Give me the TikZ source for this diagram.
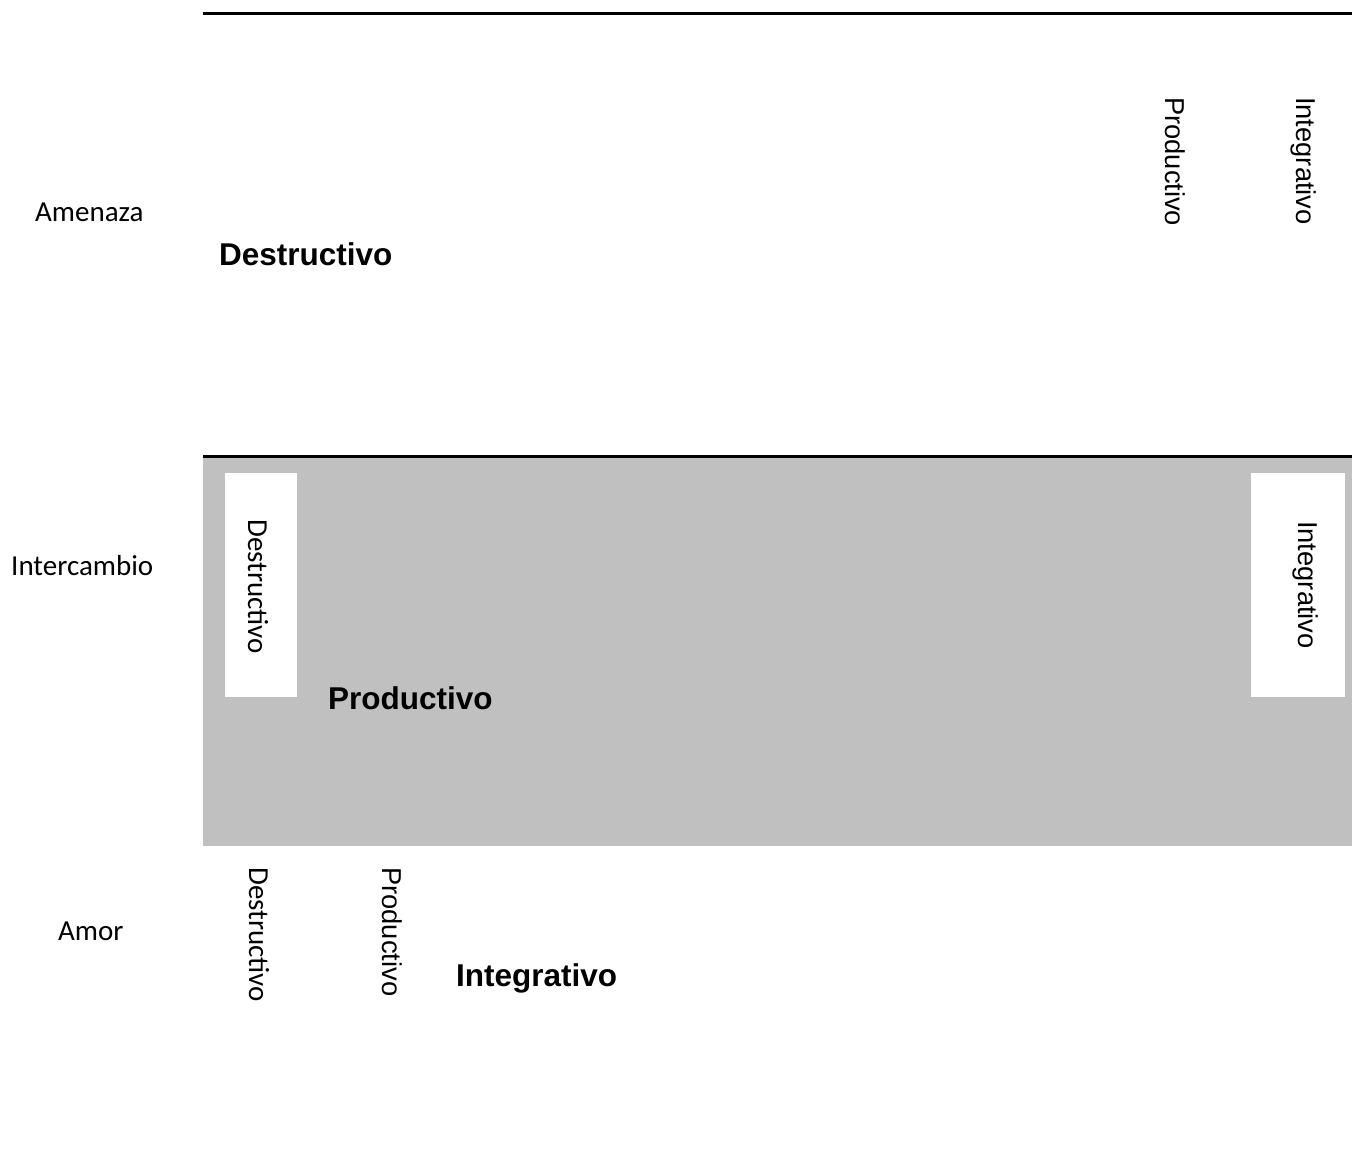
\documentclass[tikz,border=0pt]{standalone}
\usepackage{fontspec}
\newfontfamily\calibri{Carlito}
\newfontfamily\arial{Liberation Sans}
\definecolor{band}{HTML}{C0C0C0}

\begin{document}
\begin{tikzpicture}[x=1pt,y=-1pt,
  rowlabel/.style={inner sep=0pt,anchor=base west,font=\calibri\fontsize{29}{35}\selectfont},
  mainlabel/.style={inner sep=0pt,anchor=base west,font=\arial\bfseries\fontsize{31.5}{38}\selectfont},
  sidelabel/.style={inner sep=0pt,anchor=base west,rotate=-90,font=\arial\fontsize{27.3}{33}\selectfont},
  sidelabelc/.style={sidelabel,font=\calibri\fontsize{29}{35}\selectfont}]
\useasboundingbox (0,0) rectangle (1352,1171);
\fill[band] (203,457) rectangle (1352,846);
\fill[white] (225,473) rectangle (297,697);
\fill[white] (1251,473) rectangle (1345,697);
\draw[line width=3pt] (203,13.7) -- (1352,13.7);
\draw[line width=3pt] (203,456.7) -- (1352,456.7);

% Amenaza
\node[rowlabel] (amenaza) at (35,221) {Amenaza};
\node[mainlabel] (destr) at (219,265) {Destructivo};
\node[sidelabel] (prodtop) at (1165,97) {Productivo};
\node[sidelabel] (integtop) at (1296,97) {Integrativo};

% Intercambio
\node[rowlabel] (intercambio) at (11,575) {Intercambio};
\node[sidelabelc] (destrmid) at (248,519) {Destructivo};
\node[mainlabel] (prod) at (328,709) {Productivo};
\node[sidelabel] (integmid) at (1298,521) {Integrativo};

% Amor
\node[rowlabel] (amor) at (58,940) {Amor};
\node[sidelabelc] (destrlow) at (249,867) {Destructivo};
\node[sidelabel] (prodlow) at (382,867) {Productivo};
\node[mainlabel] (integ) at (456,986) {Integrativo};
\end{tikzpicture}
\end{document}
